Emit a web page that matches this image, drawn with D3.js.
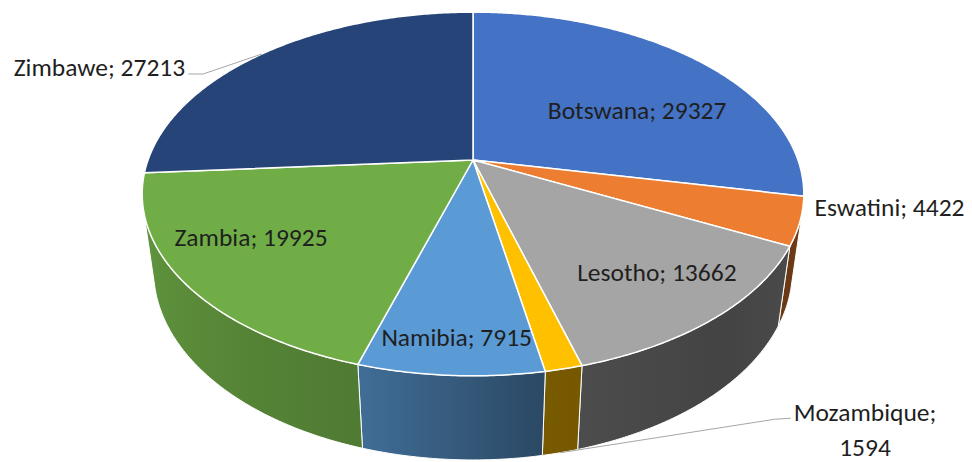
<!DOCTYPE html>
<html>
<head>
<meta charset="utf-8">
<script src="https://cdn.jsdelivr.net/npm/d3@7"></script>
<style>
  html, body { margin: 0; padding: 0; background: #fff; }
  svg { display: block; font-family: "Carlito", "Liberation Sans", Arial, sans-serif; }
</style>
</head>
<body>
<svg id="chart"></svg>
<script>
// data, in the order the slices run clockwise from 12 o'clock
const countries = ['Botswana', 'Eswatini', 'Lesotho', 'Mozambique', 'Namibia', 'Zambia', 'Zimbawe'];
const values = [29327, 4422, 13662, 1594, 7915, 19925, 27213];
const colors = ['#4472C4', '#ED7D31', '#A5A5A5', '#FFC000', '#5B9BD5', '#70AD47', '#264478'];

// label placement (degrees shifted from the slice middle, radius as fraction of pie)
const labelShift = [9.9, -4.8, -1.7, -24.9, -0.4, 5.6, -12.3];
const labelRadius = [0.612, 1.033, 0.765, 1.518, 0.853, 0.752, 1.141];
const labelAnchor = ['middle', 'start', 'middle', 'middle', 'middle', 'middle', 'end'];

const width = 972, height = 462;

// simple perspective camera looking down on the pie
const cam = {
  cx: 473, cy: 160,
  focal: 1464,
  dist: 4.505,
  tilt: Math.asin(0.54),
  depth: 0.288
};
const sa = Math.sin(cam.tilt), ca = Math.cos(cam.tilt);

// theta clockwise from the back (12 o'clock), r in pie radii, lvl 0 = top face, 1 = bottom
function project(theta, r, lvl) {
  const X = r * Math.sin(theta);
  const Z = -r * Math.cos(theta);
  const Y = -lvl * cam.depth;
  const d = cam.dist - (Y * sa + Z * ca);
  return [cam.cx + cam.focal * X / d, cam.cy - cam.focal * (Y * ca - Z * sa) / d];
}

function arcAngles(a0, a1) {
  const step = Math.PI / 360;
  const pts = d3.range(a0, a1, step);
  pts.push(a1);
  return pts;
}

const svg = d3.select('#chart')
  .attr('width', width)
  .attr('height', height)
  .attr('viewBox', `0 0 ${width} ${height}`);

const defs = svg.append('defs');

const pie = d3.pie().sort(null).value(d => d)(values);
const line = d3.line();

// shading of the outer wall, by angle (degrees)
const shade = d3.scaleLinear()
  .domain([105, 140, 170, 197, 255])
  .range([0.48, 0.41, 0.47, 0.71, 0.87])
  .clamp(true);

// front-facing part of the cylinder
const q = 1 / (cam.dist * ca);
const vis0 = Math.acos(-q), vis1 = 2 * Math.PI - Math.acos(-q);

const wallG = svg.append('g').attr('class', 'walls');
const topG = svg.append('g').attr('class', 'tops');

pie.forEach((p, i) => {
  const a0 = Math.max(p.startAngle, vis0);
  const a1 = Math.min(p.endAngle, vis1);
  if (a1 <= a0) return;

  const angs = arcAngles(a0, a1);
  const topPts = angs.map(a => project(a, 1, 0));
  const botPts = angs.map(a => project(a, 1, 1)).reverse();

  // horizontal gradient following the wall's lighting
  const xs = topPts.map(pt => pt[0]);
  const xMin = d3.min(xs), xMax = d3.max(xs);
  const gid = `wall-${i}`;
  const grad = defs.append('linearGradient')
    .attr('id', gid)
    .attr('gradientUnits', 'userSpaceOnUse')
    .attr('x1', xMin).attr('y1', 0)
    .attr('x2', xMax).attr('y2', 0);
  const base = d3.interpolateRgb('#000000', colors[i]);
  const stops = angs.filter((a, j) => j % 6 === 0 || j === angs.length - 1)
    .map(a => ({
      off: (project(a, 1, 0)[0] - xMin) / Math.max(1, xMax - xMin),
      col: base(shade(a * 180 / Math.PI))
    }))
    .sort((m, n) => m.off - n.off);
  grad.selectAll('stop')
    .data(stops)
    .join('stop')
    .attr('offset', d => d.off)
    .attr('stop-color', d => d.col);

  wallG.append('path')
    .attr('d', line(topPts.concat(botPts)) + 'Z')
    .attr('fill', `url(#${gid})`)
    .attr('stroke', '#ffffff')
    .attr('stroke-width', 1)
    .attr('stroke-linejoin', 'round');
});

const centre = project(0, 0, 0);
topG.selectAll('path')
  .data(pie)
  .join('path')
  .attr('d', d => line([centre].concat(arcAngles(d.startAngle, d.endAngle).map(a => project(a, 1, 0)))) + 'Z')
  .attr('fill', (d, i) => colors[i])
  .attr('stroke', '#ffffff')
  .attr('stroke-width', 1.5)
  .attr('stroke-linejoin', 'round');

// data labels
const labelG = svg.append('g').attr('class', 'labels');
const leaderG = svg.append('g').attr('class', 'leaders');

pie.forEach((p, i) => {
  const mid = (p.startAngle + p.endAngle) / 2;
  const pos = project(mid + labelShift[i] * Math.PI / 180, labelRadius[i], 0);
  const txt = labelG.append('text')
    .attr('x', pos[0])
    .attr('y', pos[1])
    .attr('text-anchor', labelAnchor[i])
    .attr('dominant-baseline', 'central')
    .attr('fill', '#1f1f1f')
    .style('font-size', '25.5px');

  if (countries[i] === 'Mozambique') {
    // wrapped onto two lines
    txt.append('tspan').attr('x', pos[0]).attr('y', pos[1] - 17.5).text(`${countries[i]};`);
    txt.append('tspan').attr('x', pos[0]).attr('y', pos[1] + 17.5).text(values[i]);
    const bb = txt.node().getBBox();
    const y0 = pos[1] - 17.5 + 6;
    const end = project(mid, 1, 1);
    leaderG.append('path')
      .attr('d', line([[bb.x - 3, y0], [bb.x - 19, y0 + 1], end]))
      .attr('fill', 'none')
      .attr('stroke', '#a6a6a6')
      .attr('stroke-width', 1);
  } else {
    txt.text(`${countries[i]}; ${values[i]}`);
  }

  if (countries[i] === 'Zimbawe') {
    const y0 = pos[1] + 6;
    const end = project(mid, 1, 0);
    leaderG.append('path')
      .attr('d', line([[pos[0] + 3, y0], [pos[0] + 18, y0], end]))
      .attr('fill', 'none')
      .attr('stroke', '#a6a6a6')
      .attr('stroke-width', 1);
  }
});
</script>
</body>
</html>
